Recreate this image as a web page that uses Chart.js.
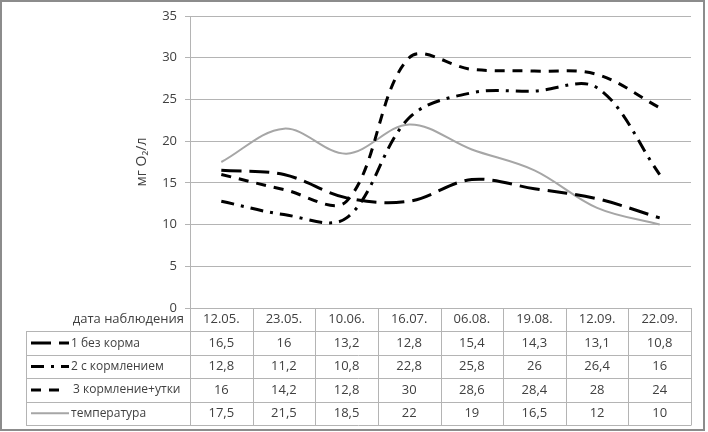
<!DOCTYPE html>
<html>
<head>
<meta charset="utf-8">
<script src="https://cdn.jsdelivr.net/npm/chart.js@4"></script>
<style>
  html, body { margin: 0; padding: 0; background: #fff; }
  #wrap { width: 708px; height: 432px; position: relative; }
</style>
</head>
<body>
<div id="wrap"><canvas id="chart" width="708" height="432"></canvas></div>
<script>
const dates = ['12.05.', '23.05.', '10.06.', '16.07.', '06.08.', '19.08.', '12.09.', '22.09.'];
const noFeed = [16.5, 16, 13.2, 12.8, 15.4, 14.3, 13.1, 10.8];
const withFeed = [12.8, 11.2, 10.8, 22.8, 25.8, 26, 26.4, 16];
const feedDucks = [16, 14.2, 12.8, 30, 28.6, 28.4, 28, 24];
const temperature = [17.5, 21.5, 18.5, 22, 19, 16.5, 12, 10];

const headerLabel = 'дата наблюдения';
const seriesNames = ['1 без корма', '2 с кормлением', '3 кормление+утки', 'температура'];

const FONT = '"Open Sans", "Noto Sans", sans-serif';
const TEXT = '#404040';
const GRID = '#b4b4b4';

const datasets = [
  { label: seriesNames[0], data: noFeed, borderColor: '#000', borderWidth: 3, borderDash: [20, 8] },
  { label: seriesNames[1], data: withFeed, borderColor: '#000', borderWidth: 3, borderDash: [13, 7, 3, 7] },
  { label: seriesNames[2], data: feedDucks, borderColor: '#000', borderWidth: 3, borderDash: [10, 8] },
  { label: seriesNames[3], data: temperature, borderColor: '#a6a6a6', borderWidth: 2, borderDash: [] },
].map((d) => ({ ...d, pointRadius: 0, tension: 0.35, fill: false }));

// data table under the plot, columns follow the x scale
const tablePlugin = {
  id: 'dataTable',
  afterDraw(chart) {
    const ctx = chart.ctx;
    const x = chart.scales.x;
    const area = chart.chartArea;
    const colW = (area.right - area.left) / dates.length;
    const top = area.bottom;
    const rowH = 23.4;
    const legendLeft = 26;
    const rows = [noFeed, withFeed, feedDucks, temperature];

    ctx.save();
    ctx.strokeStyle = GRID;
    ctx.lineWidth = 1;
    ctx.beginPath();
    ctx.moveTo(area.left, top + 0.5);
    ctx.lineTo(area.right, top + 0.5);
    for (let r = 1; r <= rows.length + 1; r++) {
      const y = Math.round(top + r * rowH) + 0.5;
      ctx.moveTo(legendLeft, y);
      ctx.lineTo(area.right, y);
    }
    const bottom = Math.round(top + (rows.length + 1) * rowH) + 0.5;
    ctx.moveTo(legendLeft + 0.5, top + rowH);
    ctx.lineTo(legendLeft + 0.5, bottom);
    for (let c = 0; c <= dates.length; c++) {
      const xx = Math.round(area.left + c * colW) + 0.5;
      ctx.moveTo(xx, top);
      ctx.lineTo(xx, bottom);
    }
    ctx.stroke();

    ctx.fillStyle = TEXT;
    ctx.font = '13px ' + FONT;
    ctx.textBaseline = 'middle';
    ctx.textAlign = 'right';
    ctx.fillText(headerLabel, area.left - 6, top + rowH / 2);
    ctx.textAlign = 'center';
    dates.forEach((d, i) => ctx.fillText(d, x.getPixelForValue(i), top + rowH / 2));

    rows.forEach((vals, r) => {
      const cy = top + (r + 1.5) * rowH;
      const ds = chart.data.datasets[r];
      ctx.save();
      ctx.strokeStyle = ds.borderColor;
      ctx.lineWidth = ds.borderWidth;
      ctx.setLineDash(ds.borderDash);
      ctx.beginPath();
      ctx.moveTo(31, cy);
      ctx.lineTo(r === 2 ? 62 : 69, cy);
      ctx.stroke();
      ctx.restore();
      ctx.textAlign = 'left';
      ctx.font = '12px ' + FONT;
      ctx.fillText(seriesNames[r], r === 2 ? 73 : 71, cy);
      ctx.font = '13px ' + FONT;
      ctx.textAlign = 'center';
      vals.forEach((v, i) => ctx.fillText(String(v).replace('.', ','), x.getPixelForValue(i), cy));
    });

    // outer frame
    ctx.strokeStyle = '#8c8c8c';
    ctx.lineWidth = 2;
    ctx.setLineDash([]);
    ctx.strokeRect(1, 1, 703, 429);
    ctx.restore();
  },
};

const ctx = document.getElementById('chart').getContext('2d');

new Chart(ctx, {
  type: 'line',
  data: { labels: dates, datasets },
  options: {
    responsive: false,
    animation: false,
    layout: { padding: { left: 128, right: 17, top: 16, bottom: 124 } },
    plugins: { legend: { display: false }, tooltip: { enabled: false } },
    scales: {
      x: {
        display: false,
        offset: true,
      },
      y: {
        min: 0,
        max: 35,
        ticks: { stepSize: 5, color: TEXT, padding: 8, font: { family: FONT, size: 13 } },
        grid: { color: GRID, tickLength: 5, tickColor: GRID },
        border: { color: GRID },
        title: {
          display: true,
          text: 'мг O₂/л',
          color: TEXT,
          font: { family: FONT, size: 14 },
          padding: { top: 6, bottom: 0 },
        },
        afterFit(scale) {
          scale.width = 62;
        },
      },
    },
  },
  plugins: [tablePlugin],
});
</script>
</body>
</html>
